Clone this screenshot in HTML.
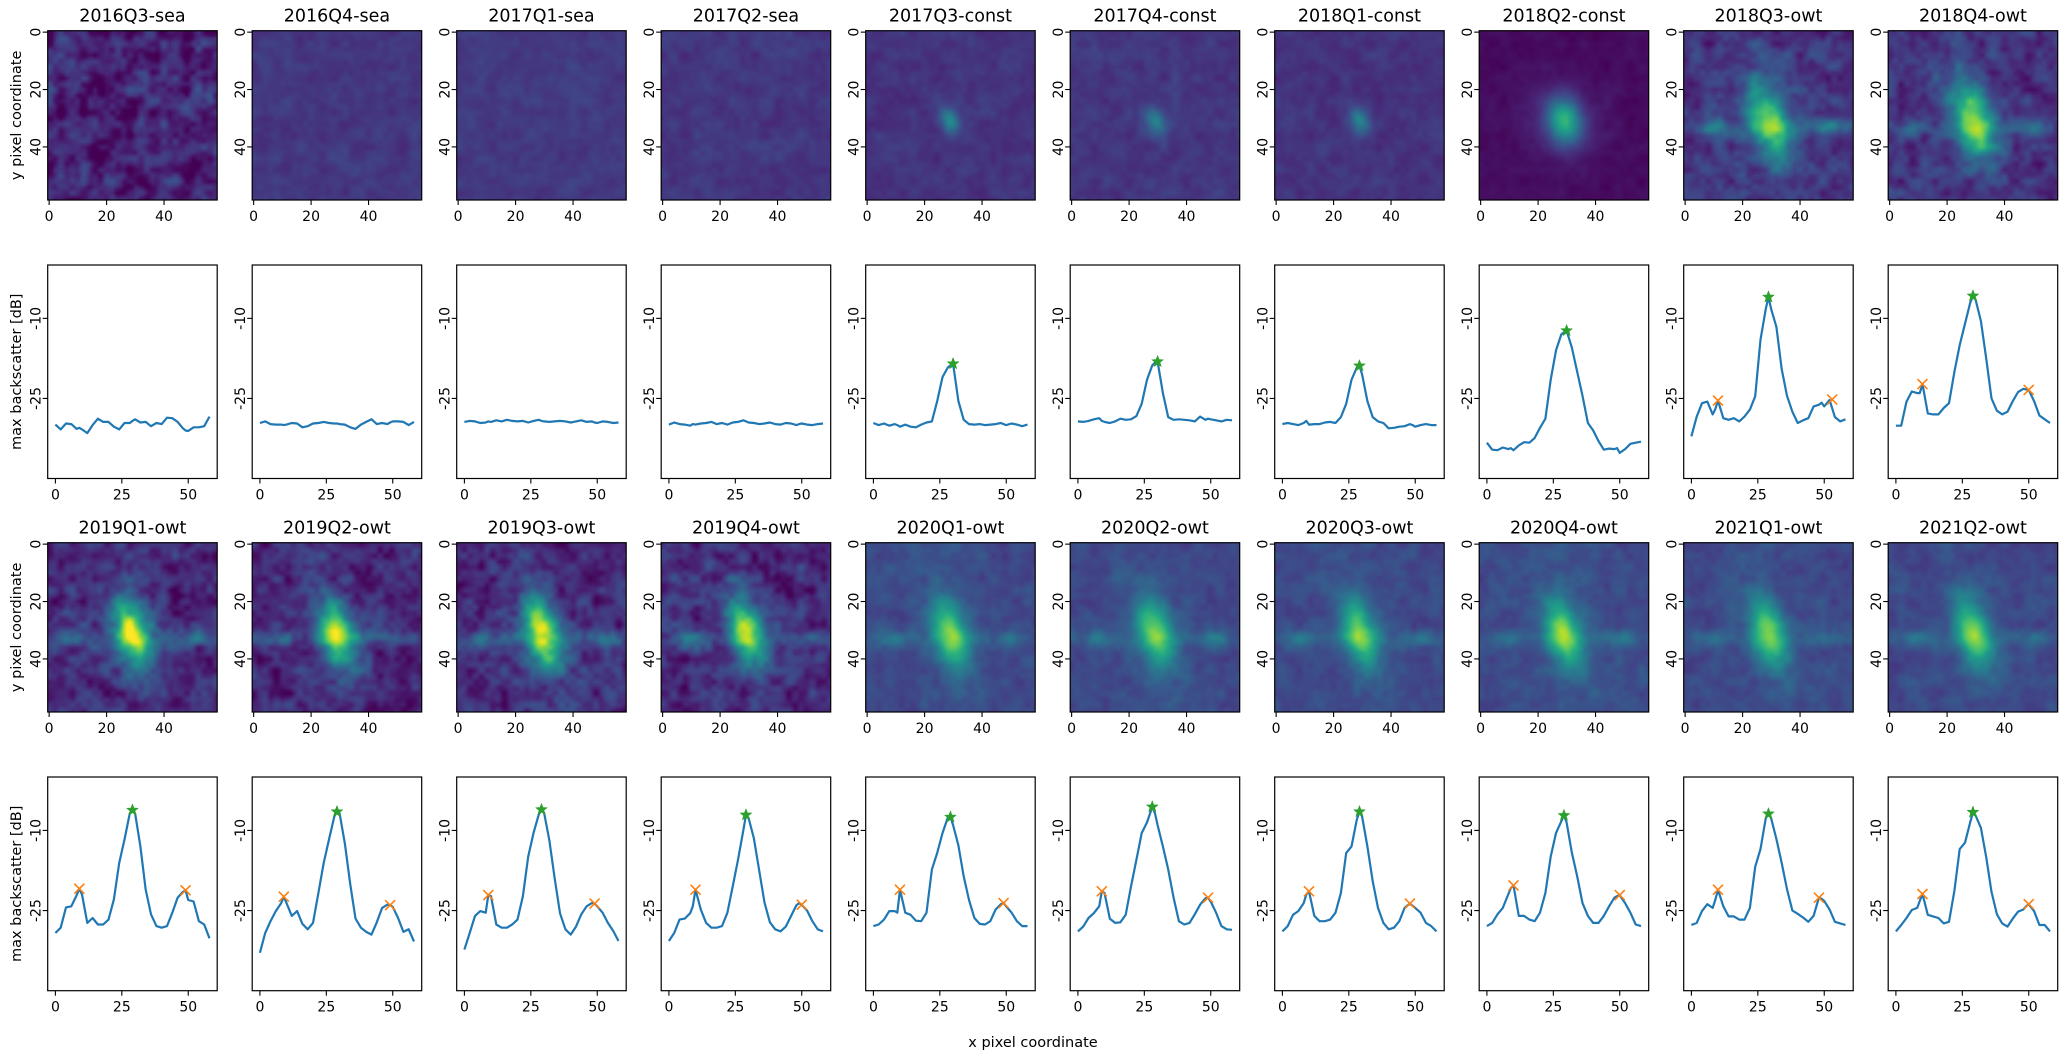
<!DOCTYPE html>
<html><head><meta charset="utf-8">
<style>
html,body{margin:0;padding:0;background:#fff;}
#fig{position:relative;width:2067px;height:1059px;overflow:hidden;font-family:"DejaVu Sans","Liberation Sans",sans-serif;}
canvas{position:absolute;}
svg{position:absolute;left:0;top:0;}
</style></head>
<body>
<div id="fig">
<svg id="ov" width="2067" height="1059"></svg>
</div>
<script>
// ---------- data ----------
const titles = ["2016Q3-sea","2016Q4-sea","2017Q1-sea","2017Q2-sea","2017Q3-const","2017Q4-const","2018Q1-const","2018Q2-const","2018Q3-owt","2018Q4-owt",
"2019Q1-owt","2019Q2-owt","2019Q3-owt","2019Q4-owt","2020Q1-owt","2020Q2-owt","2020Q3-owt","2020Q4-owt","2021Q1-owt","2021Q2-owt"];
const lineX = [0,2,4,6,8,9,10,12,14,16,18,20,22,24,26,28,29,30,32,34,36,38,40,42,44,46,48,49,50,52,54,56,58];
const s0 = [-29.9,-30.8,-29.7,-29.8,-30.7,-30.5,-30.8,-31.5,-30,-28.8,-29.4,-29.4,-30.3,-30.8,-29.6,-29.6,-29.2,-28.9,-29.5,-29.4,-30.2,-29.6,-29.8,-28.6,-28.7,-29.4,-30.6,-31,-31.1,-30.4,-30.4,-30.2,-28.4];
const s1 = [-29.6,-29.3,-29.8,-29.9,-29.9,-30,-29.9,-29.6,-29.7,-30.4,-30.2,-29.7,-29.6,-29.4,-29.6,-29.7,-29.7,-29.8,-29.9,-30.4,-30.7,-29.9,-29.4,-28.9,-29.8,-29.6,-29.8,-29.5,-29.3,-29.3,-29.4,-30,-29.4];
const s2 = [-29.4,-29.2,-29.3,-29.6,-29.5,-29.3,-29.4,-29.1,-29.3,-29.0,-29.2,-29.3,-29.2,-29.5,-29.2,-29.0,-29.2,-29.3,-29.4,-29.3,-29.2,-29.3,-29.5,-29.3,-29.1,-29.4,-29.3,-29.5,-29.6,-29.3,-29.4,-29.6,-29.5];
const s3 = [-29.9,-29.5,-29.8,-29.9,-30.1,-29.8,-29.9,-29.7,-29.6,-29.4,-29.8,-29.6,-29.9,-29.5,-29.4,-29.1,-29.3,-29.5,-29.6,-29.8,-29.7,-29.5,-29.8,-29.9,-29.6,-29.7,-30.0,-29.8,-29.7,-29.9,-30.0,-29.8,-29.7];
const s4 = [-29.6,-30,-29.7,-30.1,-29.8,-30,-30.3,-29.9,-30.3,-30.4,-29.9,-29.5,-29.3,-25.5,-21,-19.2,-18.8,-18.5,-25.5,-29,-29.8,-29.9,-29.8,-30,-29.9,-29.8,-29.6,-29.8,-30,-29.7,-29.9,-30.2,-29.9];
const s5 = [-29.3,-29.4,-29.2,-28.9,-28.7,-29.2,-29.4,-29.6,-29.3,-28.8,-29,-28.9,-28.3,-26,-21.5,-18.8,-18.3,-18.1,-24,-28.5,-29,-28.9,-29,-29.1,-29.3,-28.4,-29,-28.8,-28.9,-29.1,-29.3,-29,-29.1];
const s6 = [-29.8,-29.6,-29.8,-30,-29.6,-29.2,-29.9,-29.8,-29.8,-29.5,-29.4,-29.6,-28.5,-26,-21.5,-19.2,-18.9,-20.5,-25.5,-28.5,-29.3,-29.6,-30.6,-30.5,-30.3,-30.2,-29.8,-30,-30.3,-30,-29.8,-30,-30];
const s7 = [-33.3,-34.6,-34.7,-34.2,-34.5,-34.3,-34.7,-33.8,-33.2,-33.3,-32.4,-30.5,-28.8,-21.5,-16,-13,-12.6,-12.3,-15.5,-20,-24.5,-29.6,-31,-33,-34.6,-34.4,-34.5,-34.3,-35.2,-34.5,-33.5,-33.3,-33.1];
const s8 = [-32.1,-28.4,-25.9,-25.6,-28,-27,-25.4,-28.7,-29,-28.7,-29.3,-28.4,-27.1,-24.6,-14,-8.2,-6,-8.2,-11.6,-19.5,-24.5,-27.5,-29.6,-29.1,-28.7,-26.5,-26.2,-25.8,-26.5,-25.3,-28.5,-29.3,-28.9];
const s9 = [-30.1,-30.1,-25.6,-23.7,-24,-24,-22.3,-27.8,-28,-28,-26.8,-25.9,-20,-15,-11,-7,-5.8,-6.5,-10.5,-17.5,-25,-27.3,-28,-27.5,-25.5,-23.8,-23.2,-23.3,-23.4,-25.5,-28.2,-28.9,-29.6];
const s10 = [-29.2,-28.2,-24.4,-24.2,-22.1,-20.9,-22,-27.3,-26.4,-27.6,-27.6,-26.7,-22.9,-16.1,-11.7,-6.8,-6.2,-6.8,-13,-21.1,-25.7,-27.9,-28.2,-27.9,-25.4,-22.6,-21.5,-21.2,-23,-23.3,-27,-27.6,-30.2];
const s11 = [-32.9,-29.2,-27,-25.1,-23.6,-22.4,-23.6,-26,-25.1,-27.5,-28.5,-27.3,-21.7,-16.1,-11.7,-7.4,-6.5,-6.8,-12.5,-20,-26.5,-28.2,-29,-29.5,-27.2,-24.5,-23.9,-24,-24.3,-26.4,-29,-28.5,-30.8];
const s12 = [-32.3,-29.2,-26,-25.1,-25.4,-22.1,-22.3,-27.6,-28.2,-28.2,-27.6,-26.7,-22.3,-14.9,-10.5,-7,-6.1,-6.7,-11.9,-19,-25.5,-28.5,-29.5,-28,-25.7,-24.2,-23.6,-23.7,-24.2,-25.4,-27.3,-28.8,-30.7];
const s13 = [-30.7,-29.2,-26.7,-26.5,-25.5,-24.2,-21.1,-24.8,-27.3,-28.2,-28.2,-27.9,-25.4,-20.5,-15.5,-10,-7.1,-7.7,-11.5,-17.5,-23.5,-27.2,-28.5,-28.9,-28,-26,-24,-23.6,-23.9,-25,-27,-28.5,-28.9];
const s14 = [-27.9,-27.6,-26.7,-25.1,-25.1,-25.4,-21.1,-25.4,-25.8,-26.9,-27,-25.4,-17.3,-14.2,-10.5,-7.6,-7.5,-9,-12.8,-18.6,-23,-26.4,-27.5,-27.6,-27,-24.8,-23.8,-23.6,-24.2,-25.4,-27,-27.9,-27.9];
const s15 = [-28.9,-28,-26.4,-25.5,-24.2,-21.4,-21.7,-26.5,-27.3,-27.2,-25.8,-20.5,-15.5,-10.5,-8.5,-5.6,-6.8,-9,-13,-17.3,-22.5,-27,-27.6,-27.3,-25.7,-23.9,-22.7,-22.6,-23.3,-25.4,-27.9,-28.5,-28.6];
const s16 = [-28.9,-27.9,-25.8,-25.1,-23.6,-22,-21.4,-26,-27,-27,-26.7,-25.4,-21.7,-14.2,-13,-8,-6.5,-7.4,-13,-19.5,-24.5,-27.3,-28.5,-28.2,-27,-24.5,-23.7,-24.1,-24.5,-25.4,-27.3,-27.9,-28.9];
const s17 = [-27.9,-27.3,-25.7,-24.5,-22,-20.8,-20.3,-26,-26,-26.7,-27,-25.4,-21.7,-14.9,-10.5,-8.3,-7.2,-8.5,-14.2,-18.6,-23.6,-26,-27.3,-27.3,-26,-24.2,-22.6,-22.3,-22.1,-23.6,-25.4,-27.6,-27.9];
const s18 = [-27.7,-27.3,-25.1,-23.8,-24.5,-23,-21.1,-24.2,-26.1,-26.1,-26.7,-26.7,-24.5,-16.8,-13.5,-7.7,-6.9,-7.7,-11.6,-16.1,-21,-25,-25.6,-26.3,-27.1,-26,-22.6,-22.8,-23.2,-24.8,-27.1,-27.4,-27.7];
const s19 = [-28.9,-27.7,-26.4,-24.9,-24.5,-23.2,-21.9,-25.8,-26.1,-26.4,-27.4,-27.1,-21.3,-13.5,-12.3,-8.4,-6.6,-7.2,-9.5,-15,-21.5,-25.7,-27.4,-28,-26.5,-25.2,-24.8,-24.2,-23.8,-25.1,-27.7,-27.7,-28.9];
const series = [s0,s1,s2,s3,s4,s5,s6,s7,s8,s9,s10,s11,s12,s13,s14,s15,s16,s17,s18,s19];
const starX = [null,null,null,null,30,30,29,30,29,29,29,29,29,29,29,28,29,29,29,29];
const starY = [null,null,null,null,-18.5,-18.1,-18.9,-12.3,-6,-5.8,-6.2,-6.5,-6.1,-7.1,-7.5,-5.6,-6.5,-7.2,-6.9,-6.6];
const crossX = [[],[],[],[],[],[],[],[],[10,53],[10,50],[9,49],[9,49],[9,49],[10,50],[10,49],[9,49],[10,48],[10,50],[10,48],[10,50]];
const crossY = [[],[],[],[],[],[],[],[],[-25.4,-25.2],[-22.3,-23.4],[-20.9,-21.2],[-22.4,-24],[-22.1,-23.7],[-21.1,-23.9],[-21.1,-23.6],[-21.4,-22.6],[-21.4,-23.7],[-20.3,-22.1],[-21.1,-22.6],[-21.9,-23.8]];
const xTicksLine = [0,25,50];
const yTicksLine = [-10,-25];
const ticksHeat = [0,20,40];
// heatmap panel parameters (colormap level units 0..1)
const hmBg     = [0.10,0.16,0.17,0.16,0.15,0.16,0.15,0.03,0.15,0.15,0.12,0.11,0.12,0.12,0.22,0.22,0.22,0.23,0.22,0.22];
const hmNoise  = [0.24,0.07,0.06,0.07,0.07,0.07,0.07,0.04,0.17,0.17,0.2,0.2,0.2,0.2,0.09,0.09,0.09,0.09,0.09,0.09];
const hmPeak   = [0,0,0,0,0.34,0.3,0.3,0.55,0.58,0.62,0.75,0.7,0.72,0.7,0.52,0.52,0.52,0.54,0.52,0.52];
const hmSigma  = [1,1,1,1,2.5,2.5,2.3,4.2,4.5,4.5,4,4,4.2,4,4,4,4,4,4,4];
const hmStreak = [0,0,0,0,0,0,0,0,0.18,0.14,0.18,0.16,0.16,0.15,0.12,0.12,0.12,0.12,0.1,0.1];
</script>
<script>
const NS="http://www.w3.org/2000/svg";
const ov=document.getElementById('ov');
const fig=document.getElementById('fig');
const colL = i => 47.7 + 204.5*i;
const W = 169.5;
const rowsH = [[30.7,200],[542.7,712]];
const rowsL = [[265,478.5],[777,990.7]];
const vir=[[68,1,84],[72,36,117],[65,68,135],[53,95,141],[42,120,142],[33,145,140],[34,168,132],[68,191,112],[122,209,81],[189,223,38],[253,231,37]];
function cmap(t){t=Math.max(0,Math.min(1,t));const f=t*10,i=Math.min(9,Math.floor(f)),r=f-i;const a=vir[i],b=vir[i+1];return[a[0]+(b[0]-a[0])*r,a[1]+(b[1]-a[1])*r,a[2]+(b[2]-a[2])*r];}
function hash(i,j,k){let h=(i*374761393+j*668265263+k*2147483647)|0;h=(h^(h>>>13))*1274126177|0;h=h^(h>>>16);return ((h>>>0)%10000)/10000;}
function vnoise(x,y,s,k){const gx=x/s,gy=y/s,x0=Math.floor(gx),y0=Math.floor(gy),fx=gx-x0,fy=gy-y0;
 const a=hash(x0,y0,k),b=hash(x0+1,y0,k),c=hash(x0,y0+1,k),d=hash(x0+1,y0+1,k);
 const sx=fx*fx*(3-2*fx),sy=fy*fy*(3-2*fy);return (a*(1-sx)+b*sx)*(1-sy)+(c*(1-sx)+d*sx)*sy;}
function mk(tag,attrs,parent){const e=document.createElementNS(NS,tag);for(const k in attrs)e.setAttribute(k,attrs[k]);(parent||ov).appendChild(e);return e;}
function txt(x,y,s,size,rot,anchor){const t=mk('text',{x:x,y:y,'font-size':size,'text-anchor':anchor||'middle',fill:'#000','font-family':'DejaVu Sans, Liberation Sans, sans-serif'});if(rot)t.setAttribute('transform','rotate(-90 '+x+' '+y+')');t.textContent=s;return t;}

for(let p=0;p<20;p++){
  const col=p%10, r=Math.floor(p/10);
  const L=colL(col);
  // ---- heatmap ----
  const [ht,hb]=rowsH[r];
  const cv=document.createElement('canvas');cv.width=59;cv.height=59;
  
  
  cv.style.left=L+'px';cv.style.top=ht+'px';cv.style.width=W+'px';cv.style.height=(hb-ht)+'px';
  fig.insertBefore(cv,ov);
  const ctx=cv.getContext('2d');const img=ctx.createImageData(59,59);
  for(let y=0;y<59;y++)for(let x=0;x<59;x++){
    let v=hmBg[p]+hmNoise[p]*(0.6*(vnoise(x,y,4,p+1)-0.5)+0.4*(vnoise(x,y,2,p+31)-0.5))*1.6;
    if(hmPeak[p]>0){
      const dy=y-31,dx=(x-29)-(p===7?0.1:0.22)*dy;const s=hmSigma[p];
      const sy=p===7?s*1.35:(p>=8?s*2.0:s*1.3);
      v+=hmPeak[p]*Math.exp(-(dx*dx)/(2*s*s)-(dy*dy)/(2*sy*sy));
      if(p>=8) v+=0.12*hmPeak[p]*Math.exp(-(dx*dx)/(2*64)-(dy*dy)/(2*300));
      if(p===7) v+=0.08*Math.exp(-(dx*dx+dy*dy)/(2*100));
    }
    if(hmStreak[p]>0){
      const band=Math.exp(-((y-33)*(y-33))/(2*4));
      v+=hmStreak[p]*band*(0.5+Math.exp(-((x-9)*(x-9))/18)+Math.exp(-((x-50)*(x-50))/18));
    }
    const c=cmap(v);const o=(y*59+x)*4;img.data[o]=c[0];img.data[o+1]=c[1];img.data[o+2]=c[2];img.data[o+3]=255;
  }
  ctx.putImageData(img,0,0);
  const hg=mk('g',{});
  
  
  mk('rect',{x:L,y:ht,width:W,height:hb-ht,fill:'none',stroke:'#000','stroke-width':1.2},hg);
  const hx=v=>L+(v+0.5)*W/59, hy=v=>ht+(v+0.5)*(hb-ht)/59;
  ticksHeat.forEach(t=>{
    mk('line',{x1:hx(t),x2:hx(t),y1:hb,y2:hb+5,stroke:'#000','stroke-width':1.1},hg);
    txt(hx(t),hb+21,String(t),14);
    mk('line',{x1:L-5,x2:L,y1:hy(t),y2:hy(t),stroke:'#000','stroke-width':1.1},hg);
    txt(L-7,hy(t),String(t),14,true);
  });
  const tt=txt(L+W/2,ht-9,titles[p],17.5);
  
  
  // ---- line plot ----
  const [lt,lb]=rowsL[r];
  const lg=mk('g',{});
  
  
  const sx=v=>L+(v+2.9)*W/63.8, sy=v=>lt+(0-v)*(lb-lt)/40;
  mk('rect',{x:L,y:lt,width:W,height:lb-lt,fill:'#fff',stroke:'#000','stroke-width':1.2},lg);
  const vals=series[p];
  const pts=lineX.map((x,i)=>sx(x).toFixed(1)+','+sy(vals[i]).toFixed(1)).join(' ');
  const pl=mk('polyline',{points:pts,fill:'none',stroke:'#1f77b4','stroke-width':2.2,'stroke-linejoin':'round'},lg);
  
  
  crossX[p].forEach((cx,i)=>{
    const X=sx(cx),Y=sy(crossY[p][i]),d=5;
    const cg=mk('path',{d:`M${X-d},${Y-d}L${X+d},${Y+d}M${X-d},${Y+d}L${X+d},${Y-d}`,stroke:'#ff7f0e','stroke-width':1.6,fill:'none'},lg);
    
    
  });
  if(starX[p]!==null){
    const X=sx(starX[p]),Y=sy(starY[p]);let d='';
    for(let k=0;k<10;k++){const a=-Math.PI/2+k*Math.PI/5,rr=k%2?2.6:6.2;d+=(k?'L':'M')+(X+rr*Math.cos(a)).toFixed(2)+','+(Y+rr*Math.sin(a)).toFixed(2);}
    const st=mk('path',{d:d+'Z',fill:'#2ca02c',stroke:'#2ca02c','stroke-width':0.5},lg);
    
    
  }
  xTicksLine.forEach(t=>{mk('line',{x1:sx(t),x2:sx(t),y1:lb,y2:lb+5,stroke:'#000','stroke-width':1.1},lg);txt(sx(t),lb+21,String(t),14);});
  yTicksLine.forEach(t=>{mk('line',{x1:L-5,x2:L,y1:sy(t),y2:sy(t),stroke:'#000','stroke-width':1.1},lg);txt(L-7,sy(t),String(t),14,true);});
}
// axis labels
for(let r=0;r<2;r++){
  const [ht,hb]=rowsH[r];const a=txt(21,(ht+hb)/2,'y pixel coordinate',14.5,true);
  
  
  const [lt,lb]=rowsL[r];const b=txt(21,(lt+lb)/2,'max backscatter [dB]',14.5,true);
  
  
}
const xl=txt(1033,1047,'x pixel coordinate',14.5);


</script>
</body></html>
